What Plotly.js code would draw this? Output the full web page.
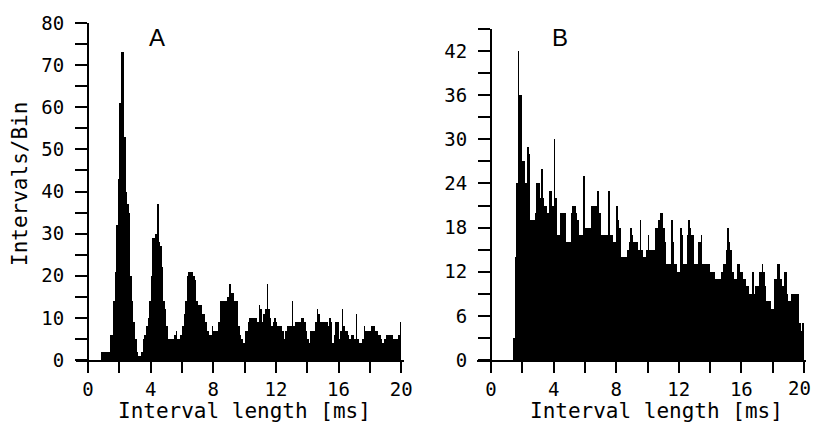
<!DOCTYPE html>
<html>
<head>
<meta charset="utf-8">
<script src="https://cdn.plot.ly/plotly-3.0.1.min.js"></script>
<style>html,body{margin:0;padding:0;background:#fff;}#chart{width:813px;height:425px;}</style>
</head>
<body>
<div id="chart"></div>
<script>
// Histogram bins: 0.1 ms wide, 0-20 ms
const binWidth = 0.1;
const binCount = 200;

// Panel A: intervals per bin
const countsA = [
  0,0,0,0,0,0,0,0,2,2, 2,2,2,2,6,6,14,21,32,43,
  61,73,73,53,40,37,35,20,14,9, 5,2,1,1,2,5,6,8,10,14,
  20,29,29,30,37,28,27,22,14,12, 8,5,5,5,5,6,7,5,5,6,
  8,11,14,20,21,21,21,20,19,14, 13,13,13,11,11,9,7,6,6,8,
  7,7,7,9,14,14,14,14,14,15, 18,16,16,14,14,14,8,6,5,4,
  7,7,9,10,10,10,10,10,9,13, 12,9,11,12,18,12,10,8,9,10,
  9,8,8,8,7,5,7,8,8,8, 14,8,9,9,9,9,10,10,9,7,
  5,4,7,7,7,9,12,11,9,9, 9,9,9,8,10,9,4,6,9,9,
  5,7,12,8,7,7,6,5,6,6, 5,11,5,4,4,5,8,7,7,7,
  7,8,8,7,7,6,6,5,4,5, 6,6,6,6,6,5,5,5,6,9
];

// Panel B: intervals per bin
const countsB = [
  0,0,0,0,0,0,0,0,0,0, 0,0,0,0,3,14,24,42,36,36,
  27,27,24,29,28,19,19,19,20,24, 24,22,26,22,21,21,20,23,23,21,
  30,22,17,17,20,20,20,20,16,16, 16,20,21,21,20,19,17,17,17,25,
  18,18,18,18,21,21,21,21,23,20, 17,17,17,17,17,23,17,17,16,16,
  21,19,18,14,14,14,14,15,16,18, 17,16,16,16,15,19,15,14,14,15,
  17,15,15,15,15,18,18,19,20,20, 18,16,13,13,13,19,16,13,13,12,
  12,18,17,13,13,17,19,18,17,17, 13,13,16,16,17,13,13,13,13,13,
  12,12,12,11,11,11,11,12,13,13, 15,18,16,15,12,11,11,13,13,12,
  12,11,11,10,10,9,9,12,9,10, 10,12,12,13,12,10,8,8,8,7,
  7,11,11,13,13,11,10,12,12,9, 8,8,9,9,9,9,9,5,4,5
];

const xTickVals = [0,2,4,6,8,10,12,14,16,18,20];
const xTickTextA = ['0','','4','','8','','12','','16','','20'];
// last label of panel B sits at the page edge and is drawn as a note
const xTickTextB = ['0','','4','','8','','12','','16','',''];
const xLastLabelB = '20';
const yTickValsA = [0,5,10,15,20,25,30,35,40,45,50,55,60,65,70,75,80];
const yTickTextA = ['0','','10','','20','','30','','40','','50','','60','','70','','80'];
const yTickValsB = [0,3,6,9,12,15,18,21,24,27,30,33,36,39,42,45];
const yTickTextB = ['0','','6','','12','','18','','24','','30','','36','','42',''];

const xAxisTitle = 'Interval length [ms]';
const yAxisTitle = 'Intervals/Bin';

const centers = [];
for (let i = 0; i < binCount; i++) centers.push(i * binWidth + binWidth / 2);

const W = 813, H = 425;
const px = v => v / W;
const py = v => 1 - v / H;

const tickFont = {family: 'DejaVu Sans Mono, monospace', size: 19, color: '#000'};
const titleFont = {family: 'DejaVu Sans Mono, monospace', size: 21, color: '#000'};

const barStyle = {color: '#000', line: {width: 0}};

const traces = [
  {type: 'bar', x: centers, y: countsA, width: binWidth, marker: barStyle, xaxis: 'x', yaxis: 'y', hoverinfo: 'x+y'},
  {type: 'bar', x: centers, y: countsB, width: binWidth, marker: barStyle, xaxis: 'x2', yaxis: 'y2', hoverinfo: 'x+y'}
];

const commonX = {
  showline: true, linecolor: '#000', linewidth: 2,
  ticks: 'outside', ticklen: 11, tickwidth: 2, tickcolor: '#000',
  tickmode: 'array', tickvals: xTickVals,
  tickfont: tickFont, showgrid: false, zeroline: false, fixedrange: true,
  ticklabelstandoff: 0
};
const commonY = {
  showline: true, linecolor: '#000', linewidth: 2,
  ticks: 'outside', ticklen: 12, tickwidth: 2, tickcolor: '#000',
  tickmode: 'array', tickfont: tickFont, showgrid: false, zeroline: false,
  fixedrange: true, anchor: 'free', ticklabelstandoff: 7
};

const layout = {
  width: W, height: H,
  margin: {l: 0, r: 0, t: 0, b: 0},
  paper_bgcolor: '#fff', plot_bgcolor: 'rgba(0,0,0,0)',
  showlegend: false, bargap: 0,
  xaxis: Object.assign({}, commonX, {domain: [px(76), px(403.5)], range: [-0.77, 20.15], anchor: 'y',
    ticktext: xTickTextA}),
  yaxis: Object.assign({}, commonY, {domain: [py(360), py(23)], range: [0, 80], position: px(88),
    tickvals: yTickValsA, ticktext: yTickTextA}),
  xaxis2: Object.assign({}, commonX, {domain: [px(477), px(805.5)], range: [-0.9, 20.1], anchor: 'y2',
    ticktext: xTickTextB}),
  yaxis2: Object.assign({}, commonY, {domain: [py(360), py(29)], range: [0, 45], position: px(491),
    tickvals: yTickValsB, ticktext: yTickTextB}),
  annotations: [
    {text: 'A', xref: 'paper', yref: 'paper', x: px(157), y: py(38), xanchor: 'center', yanchor: 'middle',
     showarrow: false, font: {family: 'Liberation Sans, Arial, sans-serif', size: 24, color: '#000'}},
    {text: 'B', xref: 'paper', yref: 'paper', x: px(560), y: py(38), xanchor: 'center', yanchor: 'middle',
     showarrow: false, font: {family: 'Liberation Sans, Arial, sans-serif', size: 24, color: '#000'}},
    {text: xLastLabelB, xref: 'paper', yref: 'paper', x: px(812), y: py(388), xanchor: 'right', yanchor: 'middle',
     showarrow: false, font: tickFont, borderpad: 0},
    {text: xAxisTitle, xref: 'paper', yref: 'paper', x: px(244), y: py(425), xanchor: 'center', yanchor: 'bottom',
     showarrow: false, font: titleFont},
    {text: xAxisTitle, xref: 'paper', yref: 'paper', x: px(656), y: py(425), xanchor: 'center', yanchor: 'bottom',
     showarrow: false, font: titleFont},
    {text: yAxisTitle, xref: 'paper', yref: 'paper', x: px(20), y: py(184), xanchor: 'center', yanchor: 'middle',
     textangle: -90, showarrow: false, font: {family: 'DejaVu Sans Mono, monospace', size: 21, color: '#000'}}
  ]
};

Plotly.newPlot('chart', traces, layout, {displayModeBar: false, staticPlot: true});
</script>
</body>
</html>
